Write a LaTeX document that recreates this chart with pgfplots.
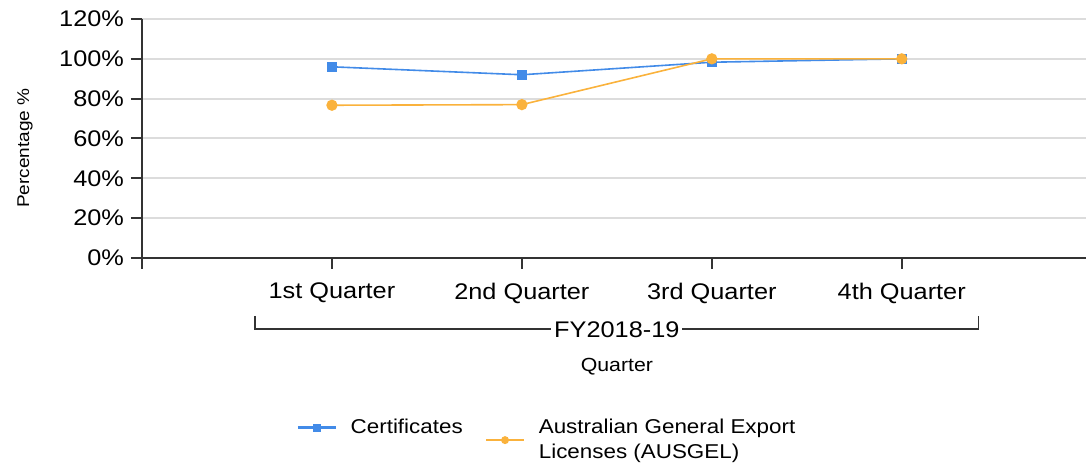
\documentclass[border=0pt]{standalone}
\usepackage{pgfplots}
\pgfplotsset{compat=1.18}
\usepackage{fontspec}
\setmainfont{Liberation Sans}[FakeStretch=1.12]
\definecolor{cblue}{RGB}{66,139,232}
\definecolor{corange}{RGB}{250,178,60}
\definecolor{axgray}{RGB}{51,51,51}
\definecolor{gridgray}{RGB}{220,220,220}
\begin{document}
\begin{tikzpicture}
\useasboundingbox (-71pt,-103pt) rectangle (472pt,129pt);
\begin{axis}[
  at={(0,0)}, anchor=south west,
  width=472pt, height=119.5pt, scale only axis,
  xmin=0, xmax=4.97, ymin=0, ymax=120,
  clip=false,
  axis lines*=left,
  axis line style={-, draw=axgray, line width=1pt},
  xtick={0,1,2,3,4},
  xticklabels={,1st Quarter,2nd Quarter,3rd Quarter,4th Quarter},
  xticklabel style={yshift=-3.5pt},
  ytick={0,20,...,120},
  yticklabel={\pgfmathprintnumber{\tick}\%},
  /pgf/number format/assume math mode=true,
  ymajorgrids,
  grid style={draw=gridgray, line width=1pt},
  tick align=outside,
  major tick length=5.5pt,
  tick style={draw=axgray, line width=1pt},
  tick label style={font=\fontsize{11.3}{13}\selectfont, text=black},
  ylabel={Percentage \%},
  ylabel style={font=\fontsize{8.5}{10}\selectfont, at={(axis description cs:-0.124,0.46)}, anchor=center},
  legend style={draw=none, fill=none, at={(0.157,-0.638)}, anchor=north west,
    legend columns=2, font=\fontsize{10}{12.5}\selectfont,
    nodes={align=left},
    /tikz/every even column/.append style={column sep=9pt}},
  legend cell align=left,
  legend image code/.code={\draw[mark repeat=2,mark phase=2,#1,line width=1.3pt,mark size=1.3pt] plot coordinates {(0pt,0pt) (9.5pt,0pt) (19pt,0pt)}; \path (24pt,0pt);},
]
\addplot[cblue, line width=0.8pt, mark=square*, mark size=2.2pt, mark options={solid},
  legend image post style={yshift=6.25pt}]
  coordinates {(1,96) (2,92) (3,98.3) (4,100)};
\addlegendentry{Certificates\\\strut}
\addplot[corange, line width=0.8pt, mark=*, mark size=2.4pt, mark options={solid}] coordinates {(1,76.7) (2,77) (3,100) (4,100)};
\addlegendentry{Australian General Export\\Licenses (AUSGEL)}
\draw[axgray, line width=0.6pt] ([yshift=-29pt]axis cs:0.595,0) -- ([yshift=-35.5pt]axis cs:0.595,0) -- ([yshift=-35.5pt]axis cs:4.405,0) -- ([yshift=-29pt]axis cs:4.405,0);
\node[fill=white, inner sep=1.5pt, font=\fontsize{11.3}{13}\selectfont] at ([yshift=-36pt]axis cs:2.5,0) {FY2018-19};
\node[font=\fontsize{9.5}{11}\selectfont] at ([yshift=-54.5pt]axis cs:2.5,0) {Quarter};
\end{axis}
\end{tikzpicture}
\end{document}
